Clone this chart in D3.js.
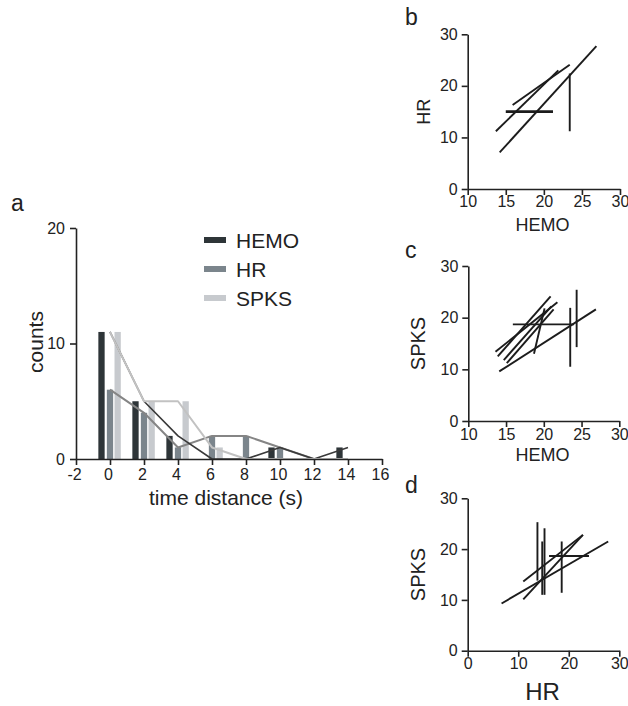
<!DOCTYPE html>
<html>
<head>
<meta charset="utf-8">
<script src="https://cdn.jsdelivr.net/npm/d3@7"></script>
<style>
  html, body { margin: 0; padding: 0; background: #fff; }
  svg { display: block; }
  text { font-family: "Liberation Sans", Arial, Helvetica, sans-serif; fill: #222; }
</style>
</head>
<body>
<svg id="chart" width="628" height="706"></svg>
<script>
// ---------- DATA ----------
const seriesNames = ["HEMO", "HR", "SPKS"];
const timeBins = [0, 2, 4, 6, 8, 10, 12, 14];
const hemoCounts = [11, 5, 2, 0, 0, 1, 0, 1];
const hrCounts = [6, 4, 1, 2, 2, 1, 0, 0];
const spksCounts = [11, 5, 5, 1, 0, 0, 0, 0];
const xTicksA = [-2, 0, 2, 4, 6, 8, 10, 12, 14, 16];
const yTicksA = [0, 10, 20];

// segments [x1, y1, x2, y2] in data units
const hemoHrSegments = [
  [14.2, 7.1, 26.9, 27.7],
  [13.7, 11.2, 21.9, 23.0],
  [15.9, 16.3, 23.4, 24.1],
  [15.0, 15.0, 21.2, 15.0],
  [23.4, 22.4, 23.4, 11.2]
];
const hemoSpksSegments = [
  [14.1, 9.6, 26.9, 21.6],
  [13.6, 13.4, 21.8, 23.0],
  [13.9, 12.5, 20.9, 24.1],
  [14.7, 11.8, 21.0, 22.2],
  [15.1, 11.2, 21.3, 21.6],
  [18.7, 13.0, 20.1, 21.8],
  [15.9, 18.7, 24.0, 18.7],
  [23.5, 10.5, 23.5, 21.9],
  [24.35, 14.3, 24.35, 25.4]
];
const hrSpksSegments = [
  [6.7, 9.3, 27.8, 21.5],
  [11.0, 13.6, 22.8, 22.8],
  [11.0, 10.1, 22.8, 22.8],
  [13.8, 13.8, 13.8, 25.3],
  [14.75, 11.0, 14.75, 21.5],
  [15.2, 11.0, 15.2, 24.1],
  [18.6, 11.4, 18.6, 21.5],
  [16.1, 18.65, 24.0, 18.65]
];
const xTicksHemo = [10, 15, 20, 25, 30];
const xTicksHr = [0, 10, 20, 30];
const yTicksSmall = [0, 10, 20, 30];

// ---------- STYLE ----------
const barColors = { HEMO: "#2e3538", HR: "#7b858c", SPKS: "#c7cace" };
const lineColors = { HEMO: "#3a3a3a", HR: "#858585", SPKS: "#c2c2c2" };
const barOffsets = { HEMO: -0.5, HR: 0.0, SPKS: 0.45 };
const axisColor = "#222";
const plainFmt = d => String(d);

const svg = d3.select("#chart");

function styleAxis(g, fontSize) {
  g.select(".domain").attr("stroke", axisColor).attr("stroke-width", 1.6);
  g.selectAll(".tick line").attr("stroke", axisColor).attr("stroke-width", 1.6);
  g.selectAll(".tick text").attr("fill", "#222").style("font-size", fontSize + "px")
    .style("font-family", '"Liberation Sans", Arial, sans-serif');
}

// ---------- PANEL A ----------
const xA = d3.scaleLinear().domain([-2, 16]).range([76, 382]);
const yA = d3.scaleLinear().domain([0, 20]).range([459, 228]);
const seriesData = { HEMO: hemoCounts, HR: hrCounts, SPKS: spksCounts };
const barW = xA(0.37) - xA(0);

const gA = svg.append("g");
seriesNames.forEach(name => {
  const vals = seriesData[name];
  gA.append("g").selectAll("rect")
    .data(timeBins.map((t, i) => ({ t, v: vals[i] })).filter(d => d.v > 0))
    .join("rect")
    .attr("x", d => xA(d.t + barOffsets[name]) - barW / 2)
    .attr("width", barW)
    .attr("y", d => yA(d.v))
    .attr("height", d => yA(0) - yA(d.v))
    .attr("fill", barColors[name]);
});
// connecting lines
const lineOrder = ["HR", "HEMO", "SPKS"];
lineOrder.forEach(name => {
  const vals = seriesData[name];
  const line = d3.line().x((d, i) => xA(timeBins[i])).y(d => yA(d));
  gA.append("path").datum(vals)
    .attr("d", line)
    .attr("fill", "none")
    .attr("stroke", lineColors[name])
    .attr("stroke-width", name === "HEMO" ? 1.6 : 2)
    .attr("stroke-linejoin", "round");
});

const axA_x = gA.append("g").attr("transform", `translate(0,${yA(0)})`)
  .call(d3.axisBottom(xA).tickValues(xTicksA).tickFormat(plainFmt).tickSize(6).tickSizeOuter(0).tickPadding(3.5));
styleAxis(axA_x, 16);
axA_x.selectAll(".tick text").attr("dx", -2);
const axA_y = gA.append("g").attr("transform", `translate(${xA(-2)},0)`)
  .call(d3.axisLeft(yA).tickValues(yTicksA).tickFormat(plainFmt).tickSize(6).tickSizeOuter(0).tickPadding(5));
styleAxis(axA_y, 16);

// legend
const legY = [240, 269, 298];
seriesNames.forEach((name, i) => {
  gA.append("rect").attr("x", 204).attr("y", legY[i] - 3).attr("width", 22).attr("height", 6)
    .attr("fill", barColors[name]);
  gA.append("text").attr("x", 236).attr("y", legY[i] + 7.5)
    .style("font-size", "21px").text(name);
});

gA.append("text").attr("x", 226).attr("y", 505).attr("text-anchor", "middle")
  .style("font-size", "21px").text("time distance (s)");
gA.append("text").attr("transform", "translate(43,342) rotate(-90)").attr("text-anchor", "middle")
  .style("font-size", "21px").text("counts");
gA.append("text").attr("x", 11).attr("y", 210.5).style("font-size", "23px").text("a");

// ---------- SMALL PANELS ----------
function smallPanel(cfg) {
  const g = svg.append("g");
  const x = d3.scaleLinear().domain(cfg.xDomain).range(cfg.xRange);
  const y = d3.scaleLinear().domain([0, 30]).range(cfg.yRange);
  g.append("g").selectAll("line").data(cfg.segments).join("line")
    .attr("x1", d => x(d[0])).attr("y1", d => y(d[1]))
    .attr("x2", d => x(d[2])).attr("y2", d => y(d[3]))
    .attr("stroke", "#1c1c1c")
    .attr("stroke-width", d => (cfg.thick && d[1] === d[3]) ? 2.6 : 1.9);
  const ax = g.append("g").attr("transform", `translate(0,${cfg.yRange[0]})`)
    .call(d3.axisBottom(x).tickValues(cfg.xTicks).tickFormat(plainFmt).tickSize(6).tickSizeOuter(0).tickPadding(cfg.xPad));
  styleAxis(ax, 16);
  const ay = g.append("g").attr("transform", `translate(${cfg.xRange[0]},0)`)
    .call(d3.axisLeft(y).tickValues(yTicksSmall).tickFormat(plainFmt).tickSize(6).tickSizeOuter(0).tickPadding(4));
  styleAxis(ay, 16);
  g.append("text").attr("x", 542.5).attr("y", cfg.xTitleY).attr("text-anchor", "middle")
    .style("font-size", cfg.xTitleSize + "px").text(cfg.xTitle);
  const cy = (cfg.yRange[0] + cfg.yRange[1]) / 2;
  g.append("text").attr("transform", `translate(${cfg.yTitleX},${cy}) rotate(-90)`)
    .attr("text-anchor", "middle").style("font-size", cfg.yTitleSize + "px").text(cfg.yTitle);
  g.append("text").attr("x", 405).attr("y", cfg.letterY).style("font-size", "23px").text(cfg.letter);
}

smallPanel({
  letter: "b", letterY: 25, segments: hemoHrSegments, thick: true,
  xDomain: [10, 30], xRange: [467.7, 620], yRange: [189, 34.3], xTicks: xTicksHemo, xPad: 1,
  xTitle: "HEMO", xTitleY: 231, xTitleSize: 18, yTitle: "HR", yTitleX: 430, yTitleSize: 18
});
smallPanel({
  letter: "c", letterY: 258, segments: hemoSpksSegments, thick: false,
  xDomain: [10, 30], xRange: [468.3, 619.3], yRange: [421, 266], xTicks: xTicksHemo, xPad: 1.5,
  xTitle: "HEMO", xTitleY: 461, xTitleSize: 18, yTitle: "SPKS", yTitleX: 425, yTitleSize: 20
});
smallPanel({
  letter: "d", letterY: 493, segments: hrSpksSegments, thick: false,
  xDomain: [0, 30], xRange: [467.7, 619.3], yRange: [650.7, 498.3], xTicks: xTicksHr, xPad: 0.5,
  xTitle: "HR", xTitleY: 700, xTitleSize: 24, yTitle: "SPKS", yTitleX: 425, yTitleSize: 20
});
</script>
</body>
</html>
